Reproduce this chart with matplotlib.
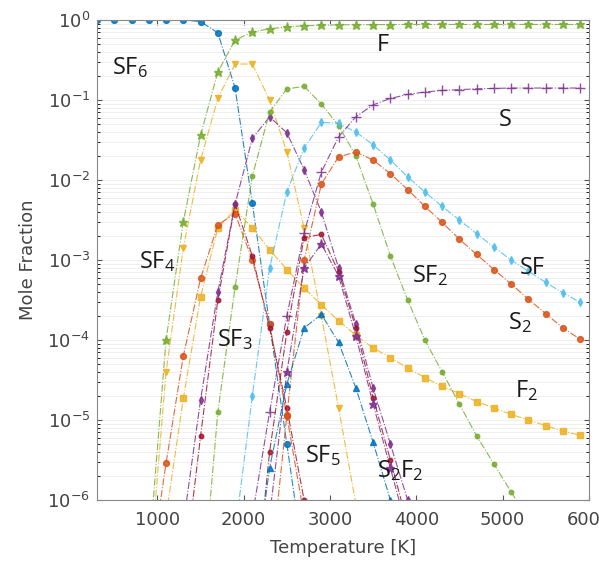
import numpy as np
import matplotlib.pyplot as plt
from matplotlib.ticker import LogLocator, NullFormatter

nan = np.nan

# temperature grid [K]
temps = [300, 500, 700, 900, 1100, 1300, 1500, 1700, 1900, 2100,
         2300, 2500, 2700, 2900, 3100, 3300, 3500, 3700, 3900, 4100,
         4300, 4500, 4700, 4900, 5100, 5300, 5500, 5700, 5900]

# log10(mole fraction)
log_SF6 = [0, 0, 0, 0, 0, 0, -0.02, -0.16, -0.85, -2.29,
           -3.8, -5.3, -6.8, nan, nan, nan, nan, nan, nan, nan,
           nan, nan, nan, nan, nan, nan, nan, nan, nan]
log_F = [nan, nan, nan, -6.7, -4.0, -2.52, -1.44, -0.65, -0.25, -0.15,
         -0.11, -0.085, -0.072, -0.065, -0.06, -0.058, -0.057, -0.056, -0.055, -0.055,
         -0.055, -0.055, -0.055, -0.055, -0.055, -0.055, -0.055, -0.055, -0.055]
log_SF4 = [nan, nan, nan, -7.0, -4.4, -2.85, -1.75, -0.98, -0.55, -0.55,
           -1.0, -1.65, -2.6, -3.7, -4.85, -6.05, -7.3, nan, nan, nan,
           nan, nan, nan, nan, nan, nan, nan, nan, nan]
log_F2 = [nan, nan, nan, nan, -6.2, -4.73, -3.46, -2.6, -2.37, -2.6,
          -2.87, -3.12, -3.35, -3.56, -3.76, -3.94, -4.1, -4.22, -4.35, -4.47,
          -4.58, -4.67, -4.77, -4.85, -4.93, -5.0, -5.07, -5.14, -5.19]
log_SF5 = [nan, nan, nan, -7.0, -5.54, -4.2, -3.23, -2.56, -2.42, -3.0,
           -3.8, -4.95, -6.2, nan, nan, nan, nan, nan, nan, nan,
           nan, nan, nan, nan, nan, nan, nan, nan, nan]
log_S2F10 = [nan, nan, nan, nan, nan, -7.0, -5.2, -3.5, -2.3, -2.95,
             -3.85, -4.85, -6.0, -7.1, nan, nan, nan, nan, nan, nan,
             nan, nan, nan, nan, nan, nan, nan, nan, nan]
log_SF3 = [nan, nan, nan, nan, nan, -6.3, -4.75, -3.4, -2.3, -1.48,
           -1.21, -1.41, -1.87, -2.4, -3.1, -3.8, -4.6, -5.3, -6.0, -6.8,
           nan, nan, nan, nan, nan, nan, nan, nan, nan]
log_SF2 = [nan, nan, nan, nan, nan, nan, -7.4, -4.9, -3.34, -1.95,
           -1.15, -0.86, -0.83, -1.05, -1.32, -1.7, -2.3, -2.95, -3.5, -4.0,
           -4.4, -4.8, -5.2, -5.55, -5.9, -6.25, nan, nan, nan]
log_SF = [nan, nan, nan, nan, nan, nan, nan, nan, -6.4, -4.7,
          -3.1, -2.15, -1.6, -1.28, -1.29, -1.4, -1.56, -1.75, -1.96, -2.15,
          -2.33, -2.5, -2.67, -2.84, -3.0, -3.14, -3.28, -3.41, -3.53]
log_S = [nan, nan, nan, nan, nan, nan, nan, nan, nan, -6.2,
         -4.9, -3.7, -2.66, -1.9, -1.46, -1.21, -1.06, -0.98, -0.93, -0.9,
         -0.88, -0.87, -0.86, -0.855, -0.85, -0.85, -0.85, -0.85, -0.85]
log_S2 = [nan, nan, nan, nan, nan, nan, nan, nan, nan, nan,
          -7.0, -4.94, -3.0, -2.05, -1.71, -1.65, -1.75, -1.92, -2.12, -2.33,
          -2.53, -2.74, -2.93, -3.12, -3.3, -3.49, -3.67, -3.85, -3.99]
log_S2F2a = [nan, nan, nan, nan, nan, nan, nan, nan, nan, -7.5,
             -5.4, -3.9, -2.72, -2.68, -3.15, -3.85, -4.72, -5.5, -6.3, nan,
             nan, nan, nan, nan, nan, nan, nan, nan, nan]
log_S2F2b = [nan, nan, nan, nan, nan, nan, nan, nan, nan, nan,
             -6.2, -4.4, -3.1, -2.8, -3.2, -3.95, -4.8, -5.6, -6.4, nan,
             nan, nan, nan, nan, nan, nan, nan, nan, nan]
log_SF_tri = [nan, nan, nan, nan, nan, nan, nan, nan, nan, -7.2,
              -5.6, -4.55, -3.85, -3.68, -4.03, -4.6, -5.28, -6.0, -6.8, nan,
              nan, nan, nan, nan, nan, nan, nan, nan, nan]

blue, orange, yellow = "#0072BD", "#D95319", "#EDB120"
purple, green, cyan, red = "#7E2F8E", "#77AC30", "#4DBEEE", "#A2142F"

series = [
    (log_SF6, blue, "o"),
    (log_F, green, "*"),
    (log_SF4, yellow, "v"),
    (log_F2, yellow, "s"),
    (log_SF5, orange, "o"),
    (log_S2F10, red, "."),
    (log_SF3, purple, "d"),
    (log_SF2, green, "."),
    (log_SF, cyan, "d"),
    (log_S, purple, "+"),
    (log_S2, orange, "o"),
    (log_S2F2a, red, "."),
    (log_S2F2b, purple, "*"),
    (log_SF_tri, blue, "^"),
]

# species labels: (text, T, log10 y)
labels = [
    (r"SF$_6$", 680, -0.6), ("F", 3610, -0.31), ("S", 5030, -1.25),
    (r"SF$_4$", 1000, -3.02), ("SF", 5350, -3.1), (r"SF$_2$", 4160, -3.19),
    (r"S$_2$", 5200, -3.78), (r"SF$_3$", 1900, -4.0), (r"F$_2$", 5280, -4.63),
    (r"SF$_5$", 2920, -5.44), (r"S$_2$F$_2$", 3810, -5.63),
]

plt.rcParams.update({"font.family": "DejaVu Sans", "mathtext.default": "regular"})

fig = plt.figure(figsize=(5.99, 5.66), dpi=100)
ax = fig.add_axes([0.162, 0.1166, 0.821, 0.848])

T = np.array(temps)
for vals, col, mk in series:
    y = 10 ** np.array(vals, dtype=float)
    ms = 6.5 if mk in ("*", "+", ".") else 4.2
    ax.plot(T, y, linestyle="-.", lw=0.8, color=col, marker=mk,
            markersize=ms, markerfacecolor=col, markeredgecolor=col, alpha=0.85)

for txt, tx, ly in labels:
    ax.text(tx, 10 ** ly, txt, fontsize=17, family="Open Sans",
            color="#1a1a1a", ha="center", va="center")

ax.set_yscale("log")
ax.set_xlim(300, 6000)
ax.set_ylim(1e-6, 1)
ax.set_xticks([1000, 2000, 3000, 4000, 5000, 6000])
ax.yaxis.set_minor_locator(LogLocator(base=10, subs=np.arange(2, 10)))
ax.yaxis.set_minor_formatter(NullFormatter())
ax.grid(True, which="both", axis="y", color="#ececec", lw=0.6)
ax.set_axisbelow(True)

ax.tick_params(direction="in", top=True, right=True, labelsize=13,
               colors="#555555", labelcolor="#444444")
ax.tick_params(axis="x", pad=8)
ax.tick_params(axis="y", pad=5)
ax.tick_params(which="minor", direction="in", right=True, length=2)
for sp in ax.spines.values():
    sp.set_color("#888888")

ax.set_xlabel("Temperature [K]", fontsize=13, color="#444444", labelpad=7)
ax.set_ylabel("Mole Fraction", fontsize=13, color="#444444", labelpad=7)

fig.savefig("out.png", dpi=100)
